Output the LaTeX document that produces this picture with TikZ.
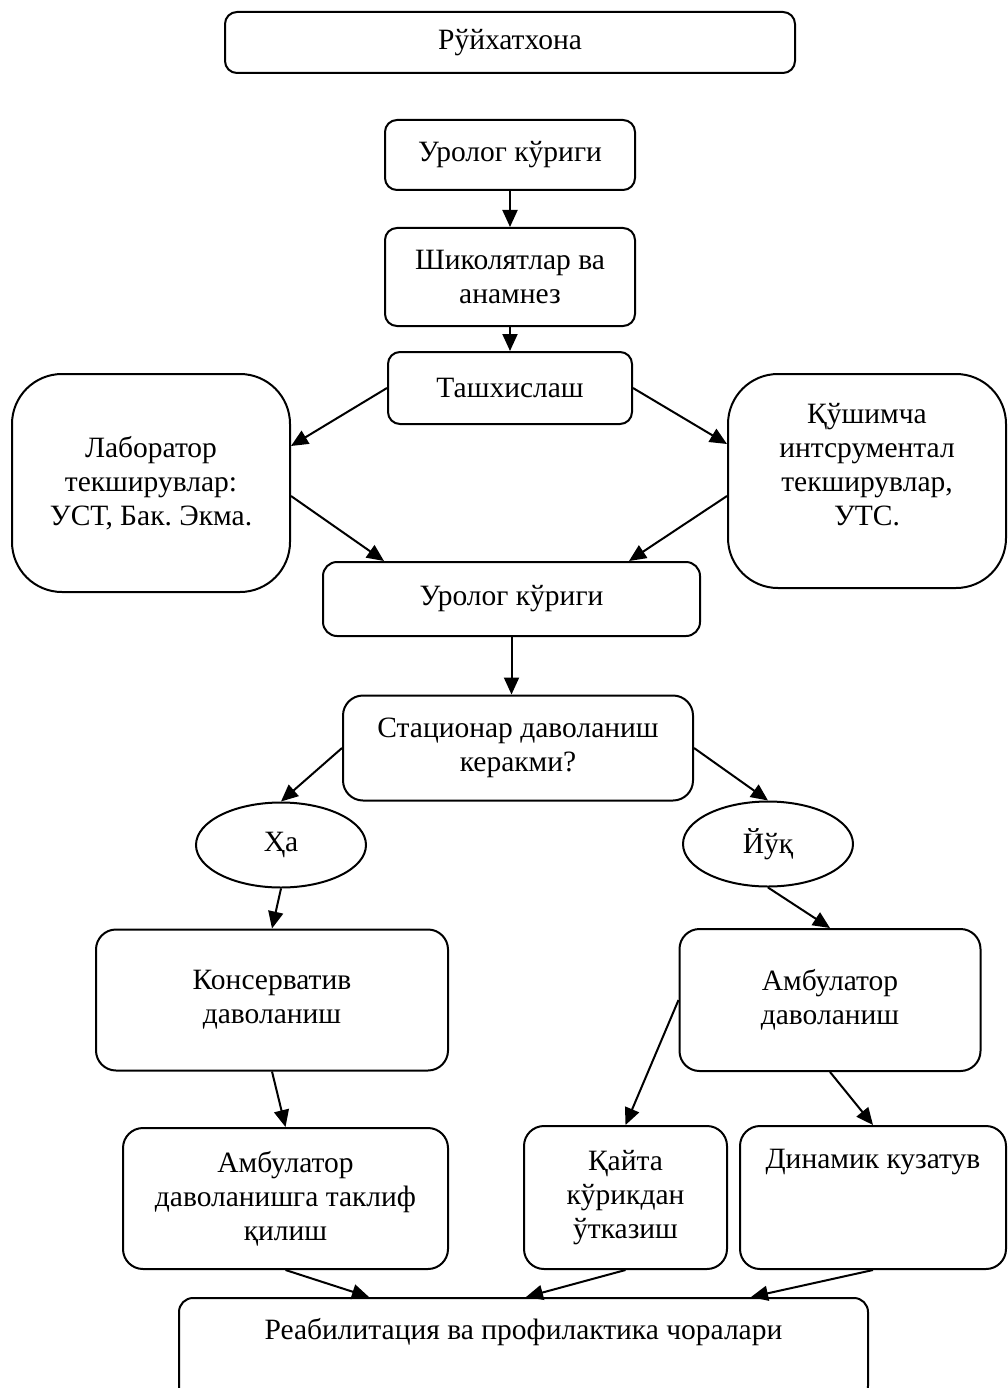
\documentclass[tikz,border=0pt]{standalone}
\usepackage{fontspec}
\setmainfont{Liberation Serif}
\usetikzlibrary{arrows.meta,shapes.geometric,calc}
\frenchspacing
\begin{document}
\begin{tikzpicture}[x=1pt,y=-1pt,
  box/.style={draw, line width=2pt, rounded corners=#1, align=center,
    font=\fontsize{29.5}{34}\selectfont, inner sep=0pt},
  box/.default=12pt,
  oval/.style={draw, ellipse, line width=2pt, inner sep=0pt,
    font=\fontsize{29.5}{34}\selectfont},
  txt/.style={align=center, font=\fontsize{29.5}{34}\selectfont, inner sep=0pt},
  arr/.style={-{Triangle[length=17pt,width=15pt]}, line width=2pt}]
\useasboundingbox (0,0) rectangle (1008,1388);
\node[box=12pt, minimum width=570pt, minimum height=61pt] (reg) at (510,42.5) {Рўйхатхона};
\node[box=12pt, minimum width=250pt, minimum height=70pt] (uro1) at (510,155) {Уролог кўриги};
\node[box=12pt, minimum width=250pt, minimum height=98pt] (shik) at (510,277) {Шиколятлар ва\\анамнез};
\node[box=12pt, minimum width=244pt, minimum height=72pt] (tash) at (510,388) {Ташхислаш};
\node[box=50pt, minimum width=278pt, minimum height=218pt] (lab) at (151,483) {Лаборатор\\текширувлар:\\УСТ, Бак. Экма.};
\node[box=50pt, minimum width=278pt, minimum height=214pt] (qush) at (867,481) {};
\node[txt] (qusht) at (867,465) {Қўшимча\\интсрументал\\текширувлар,\\УТС.};
\node[box=14pt, minimum width=377pt, minimum height=74pt] (uro2) at (511.5,599) {Уролог кўриги};
\node[box=20pt, minimum width=350pt, minimum height=105pt] (stat) at (518,748) {Стационар даволаниш\\керакми?};
\node[oval, minimum width=170pt, minimum height=85pt] (ha) at (281,845) {Ҳа};
\node[oval, minimum width=170pt, minimum height=85pt] (yuq) at (768,844) {Йўқ};
\node[box=20pt, minimum width=352pt, minimum height=141pt] (kons) at (272,1000) {Консерватив\\даволаниш};
\node[box=20pt, minimum width=301pt, minimum height=142pt] (amb) at (830,1000) {Амбулатор\\даволаниш};
\node[box=20pt, minimum width=325pt, minimum height=141pt] (amb2) at (285.5,1198.5) {Амбулатор\\даволанишга таклиф\\қилиш};
\node[box=20pt, minimum width=203pt, minimum height=143pt] (qayta) at (625.5,1197.5) {Қайта\\кўрикдан\\ўтказиш};
\node[box=20pt, minimum width=266pt, minimum height=143pt] (din) at (873,1197.5) {};
\node[txt] (dint) at (873,1162) {Динамик кузатув};
\node[box=14pt, minimum width=689pt, minimum height=102pt] (reab) at (523.5,1349) {};
\node[txt] (reabt) at (523.5,1332) {Реабилитация ва профилактика чоралари};
% connectors
\draw[arr] (uro1.south) -- (shik.north);
\draw[arr] (shik.south) -- (tash.north);
\draw[arr] (tash.west) -- ($(lab.north east)+(0,73)$);
\draw[arr] (tash.east) -- ($(qush.north west)+(0,71)$);
\draw[arr] ($(lab.north east)+(0,123)$) -- ($(uro2.north west)+(62,0)$);
\draw[arr] ($(qush.north west)+(0,123)$) -- ($(uro2.north east)+(-72,0)$);
\draw[arr] (uro2.south) -- (uro2.south |- stat.north);
\draw[arr] (stat.west) -- (ha.north);
\draw[arr] (stat.east) -- (yuq.north);
\draw[arr] (ha.south) -- (kons.north);
\draw[arr] (yuq.south) -- (amb.north);
\draw[arr] (kons.south) -- (amb2.north);
\draw[arr] (amb.west) -- (qayta.north);
\draw[arr] (amb.south) -- (din.north);
\draw[arr] (amb2.south) -- ($(reab.north west)+(191,0)$);
\draw[arr] (qayta.south) -- ($(reab.north west)+(348,0)$);
\draw[arr] (din.south) -- ($(reab.north west)+(573,0)$);
\end{tikzpicture}
\end{document}
